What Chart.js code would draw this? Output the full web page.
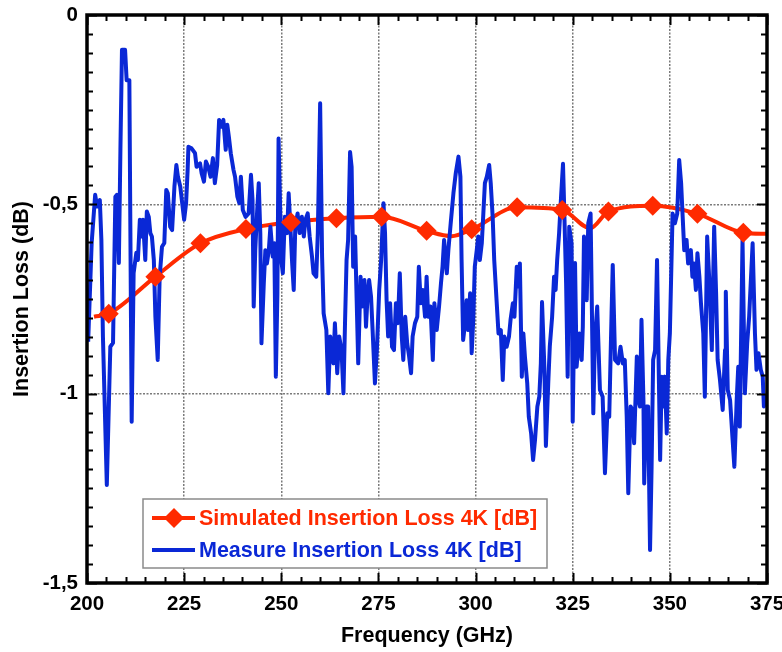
<!DOCTYPE html>
<html>
<head>
<meta charset="utf-8">
<script src="https://cdn.jsdelivr.net/npm/chart.js@4/dist/chart.umd.min.js"></script>
<style>
html,body{margin:0;padding:0;background:#fff;}
#wrap{position:relative;width:782px;height:652px;}
</style>
</head>
<body>
<div id="wrap"><canvas id="c" width="782" height="652"></canvas></div>
<script>
// ---------- DATA ----------
const seriesLabels = ['Simulated Insertion Loss 4K [dB]', 'Measure Insertion Loss 4K [dB]'];
const axisTitles = { x: 'Frequency (GHz)', y: 'Insertion Loss (dB)' };
const xTickValues = [200, 225, 250, 275, 300, 325, 350, 375];
const yTickValues = [0, -0.5, -1, -1.5];

// Simulated: diamond markers
const simMarkerFreq = [205.6, 217.6, 229.2, 240.9, 252.5, 264.2, 275.8, 287.4, 299.0, 310.7, 322.3, 334.2, 345.6, 357.1, 368.9];
const simMarkerLoss = [-0.789, -0.691, -0.603, -0.565, -0.547, -0.537, -0.533, -0.570, -0.566, -0.508, -0.515, -0.519, -0.504, -0.525, -0.575];
// Simulated: full smooth curve (includes marker points)
const simCurveFreq = [201.8, 205.6, 217.6, 229.2, 240.9, 252.5, 264.2, 275.8, 287.4, 293.8, 299.0, 310.7, 322.3, 329.5, 334.2, 345.6, 357.1, 368.9, 375.0];
const simCurveLoss = [-0.797, -0.789, -0.691, -0.603, -0.565, -0.547, -0.537, -0.533, -0.570, -0.584, -0.566, -0.508, -0.515, -0.563, -0.519, -0.504, -0.525, -0.575, -0.578];

// Measured
const measFreq = [
200.3,201.2,202.1,202.6,203.3,203.7,204.1,205.1,206.0,206.7,
207.3,207.7,208.2,208.6,209.0,209.8,210.2,210.9,211.5,212.0,
212.7,213.1,213.6,214.0,214.4,215.0,215.4,215.9,216.3,216.7,
217.2,217.6,218.2,218.7,219.3,219.9,220.4,220.8,221.4,221.9,
222.5,223.0,223.4,224.0,224.6,225.0,225.5,225.9,226.1,226.9,
227.8,228.2,229.1,229.5,230.1,230.6,231.2,231.8,232.4,232.9,
233.5,234.0,234.7,235.1,235.7,236.1,236.5,237.0,237.7,238.1,
238.7,239.2,239.6,240.1,240.8,241.6,242.2,242.6,242.9,243.3,
243.8,244.2,244.6,244.9,245.5,245.9,246.3,246.8,247.2,247.8,
248.2,248.6,249.0,249.3,250.0,250.4,250.9,251.5,251.9,252.3,
252.8,253.2,253.6,254.2,254.7,255.3,255.8,256.2,256.8,257.3,
257.9,258.3,259.0,259.4,260.0,260.5,260.9,261.6,262.1,262.6,
262.9,263.4,263.8,264.4,264.9,265.5,266.0,266.4,266.8,267.2,
267.7,268.1,268.5,269.0,269.4,269.8,270.4,270.8,271.4,271.8,
272.2,272.6,273.1,273.5,274.1,274.6,275.2,275.7,276.3,276.7,
277.1,277.5,278.0,278.5,279.0,279.5,280.0,280.5,281.0,281.4,
281.9,282.4,282.9,283.4,283.8,284.4,285.0,285.4,285.9,286.4,
287.0,287.4,287.8,288.4,289.0,289.4,290.0,290.6,291.1,291.5,
291.9,292.6,293.0,293.6,294.3,294.9,295.6,296.1,296.4,296.8,
297.3,297.7,298.1,298.6,299.0,299.4,299.8,300.3,300.7,301.1,
301.6,302.0,302.4,302.9,303.5,303.9,304.4,304.8,305.4,305.9,
306.5,307.0,307.4,308.0,308.6,309.0,309.6,310.0,310.6,311.0,
311.4,311.9,312.3,312.7,313.3,313.7,314.3,314.8,315.3,315.9,
316.4,316.8,317.1,317.7,318.1,318.7,319.1,319.7,320.2,320.6,
321.0,321.5,322.0,322.5,322.8,323.3,323.7,324.1,324.7,325.0,
325.6,326.0,326.7,327.3,327.6,327.9,328.6,329.0,329.6,330.3,
330.7,331.3,332.0,332.7,333.3,333.9,334.4,335.0,335.3,335.9,
336.7,337.3,337.9,338.4,338.9,339.3,339.9,340.4,340.8,341.5,
341.9,342.3,342.7,343.2,343.4,343.9,344.4,344.9,345.3,345.7,
346.2,346.7,347.5,347.9,348.3,348.7,349.2,349.6,350.0,350.7,
351.3,351.9,352.4,352.9,353.3,353.7,354.3,354.7,355.4,355.8,
356.2,356.7,357.1,357.6,358.0,358.6,359.0,359.6,360.1,360.8,
361.4,361.9,362.3,362.9,363.6,364.2,364.4,364.9,365.5,366.1,
366.6,367.2,367.6,368.0,368.7,369.3,369.9,370.4,371.3,371.9,
372.3,372.8,373.4,373.9,374.2,374.7
];
const measLoss = [
-0.863,-0.602,-0.475,-0.506,-0.489,-0.594,-0.849,-1.241,-0.876,-0.866,
-0.480,-0.475,-0.655,-0.356,-0.092,-0.092,-0.172,-0.172,-1.074,-0.681,
-0.628,-0.647,-0.541,-0.585,-0.541,-0.647,-0.519,-0.533,-0.576,-0.585,
-0.647,-0.797,-0.911,-0.691,-0.612,-0.602,-0.462,-0.471,-0.559,-0.568,
-0.453,-0.396,-0.427,-0.453,-0.506,-0.541,-0.497,-0.409,-0.348,-0.352,
-0.365,-0.401,-0.392,-0.418,-0.440,-0.387,-0.401,-0.427,-0.378,-0.444,
-0.396,-0.277,-0.295,-0.277,-0.356,-0.290,-0.321,-0.365,-0.409,-0.427,
-0.480,-0.497,-0.427,-0.515,-0.533,-0.524,-0.422,-0.489,-0.770,-0.621,
-0.515,-0.444,-0.576,-0.867,-0.708,-0.621,-0.656,-0.621,-0.559,-0.638,
-0.603,-0.955,-0.735,-0.326,-0.647,-0.682,-0.533,-0.576,-0.471,-0.550,
-0.656,-0.726,-0.559,-0.524,-0.576,-0.533,-0.585,-0.541,-0.524,-0.585,
-0.638,-0.682,-0.691,-0.576,-0.233,-0.638,-0.788,-0.832,-0.999,-0.849,
-0.871,-0.920,-0.814,-0.946,-0.849,-0.885,-0.999,-0.814,-0.647,-0.594,
-0.362,-0.401,-0.665,-0.585,-0.753,-0.920,-0.691,-0.770,-0.700,-0.823,
-0.744,-0.700,-0.744,-0.832,-0.973,-0.885,-0.726,-0.647,-0.497,-0.576,
-0.753,-0.849,-0.761,-0.876,-0.885,-0.761,-0.814,-0.682,-0.849,-0.911,
-0.797,-0.867,-0.902,-0.946,-0.849,-0.814,-0.797,-0.665,-0.761,-0.726,
-0.797,-0.691,-0.797,-0.770,-0.911,-0.761,-0.832,-0.770,-0.708,-0.665,
-0.594,-0.682,-0.621,-0.550,-0.471,-0.418,-0.374,-0.427,-0.647,-0.858,
-0.814,-0.753,-0.832,-0.735,-0.893,-0.805,-0.665,-0.621,-0.585,-0.647,
-0.603,-0.524,-0.444,-0.427,-0.396,-0.444,-0.533,-0.647,-0.753,-0.841,
-0.832,-0.964,-0.849,-0.876,-0.849,-0.805,-0.761,-0.797,-0.665,-0.717,
-0.656,-0.955,-0.841,-0.902,-0.973,-1.061,-1.105,-1.175,-1.122,-1.034,
-1.008,-0.920,-0.758,-0.929,-1.138,-0.973,-0.876,-0.797,-0.691,-0.726,
-0.647,-0.576,-0.480,-0.393,-0.506,-0.708,-0.955,-0.559,-0.603,-1.074,
-0.655,-0.929,-0.841,-0.911,-0.823,-0.585,-0.753,-0.550,-0.524,-1.052,
-0.858,-0.770,-0.990,-1.008,-1.210,-1.052,-1.061,-0.788,-0.660,-0.911,
-0.920,-0.876,-0.920,-0.911,-1.061,-1.263,-1.034,-1.043,-1.131,-0.902,
-1.017,-1.034,-0.805,-1.017,-1.237,-1.034,-1.034,-1.413,-1.193,-0.911,
-0.885,-0.647,-1.175,-0.955,-1.034,-0.955,-1.105,-0.911,-0.841,-0.524,
-0.550,-0.524,-0.383,-0.444,-0.533,-0.621,-0.594,-0.656,-0.621,-0.691,
-0.656,-0.726,-0.629,-0.691,-0.761,-0.841,-1.008,-0.585,-0.691,-0.885,
-0.559,-0.735,-0.911,-0.964,-1.043,-0.885,-0.731,-0.990,-1.017,-1.114,
-1.193,-1.017,-0.929,-1.087,-0.594,-0.999,-0.867,-0.797,-0.603,-0.841,
-0.937,-0.893,-0.937,-0.955,-1.034,-1.003
];

// ---------- STYLE ----------
const RED = '#ff2a00';
const BLUE = '#0a28d6';
const FONT = '"Liberation Sans", Arial, Helvetica, sans-serif';

const toXY = (xs, ys) => xs.map((x, i) => ({ x: x, y: ys[i] }));

const xMin = xTickValues[0], xMax = xTickValues[xTickValues.length - 1];
const yMin = yTickValues[yTickValues.length - 1], yMax = yTickValues[0];
const xMajor = 25, xMinor = 5, yMajor = 0.5, yMinor = 0.05;

// frame + inward ticks
const framePlugin = {
  id: 'frameTicks',
  afterDatasetsDraw(chart) {
    const { ctx, chartArea: a, scales: { x, y } } = chart;
    ctx.save();
    ctx.strokeStyle = '#000';
    ctx.lineWidth = 2;
    ctx.beginPath();
    const nx = Math.round((xMax - xMin) / xMinor);
    for (let i = 0; i <= nx; i++) {
      const v = xMin + i * xMinor;
      const px = Math.round(x.getPixelForValue(v)) + 0.5;
      const len = (i % Math.round(xMajor / xMinor) === 0) ? 10 : 6;
      ctx.moveTo(px, a.top); ctx.lineTo(px, a.top + len);
      ctx.moveTo(px, a.bottom); ctx.lineTo(px, a.bottom - len);
    }
    const ny = Math.round((yMax - yMin) / yMinor);
    for (let i = 0; i <= ny; i++) {
      const v = yMin + i * yMinor;
      const py = Math.round(y.getPixelForValue(v)) + 0.5;
      const len = (i % Math.round(yMajor / yMinor) === 0) ? 10 : 6;
      ctx.moveTo(a.left, py); ctx.lineTo(a.left + len, py);
      ctx.moveTo(a.right, py); ctx.lineTo(a.right - len, py);
    }
    ctx.stroke();
    ctx.lineWidth = 3.5;
    ctx.strokeRect(a.left, a.top, a.right - a.left, a.bottom - a.top);
    ctx.restore();
  }
};

// legend box drawn inside the plot
const legendPlugin = {
  id: 'boxLegend',
  afterDraw(chart) {
    const { ctx, chartArea: a } = chart;
    const bx = a.left + 56, by = a.bottom - 84, bw = 404, bh = 69;
    ctx.save();
    ctx.fillStyle = '#fff';
    ctx.fillRect(bx, by, bw, bh);
    ctx.strokeStyle = '#8a8a8a';
    ctx.lineWidth = 1.5;
    ctx.strokeRect(bx, by, bw, bh);
    const rows = [
      { label: seriesLabels[0], color: RED, marker: true, y: by + 19 },
      { label: seriesLabels[1], color: BLUE, marker: false, y: by + 51 }
    ];
    ctx.font = 'bold 21.5px ' + FONT;
    ctx.textBaseline = 'middle';
    ctx.textAlign = 'left';
    rows.forEach(r => {
      ctx.strokeStyle = r.color;
      ctx.lineWidth = 4;
      ctx.beginPath();
      ctx.moveTo(bx + 9, r.y); ctx.lineTo(bx + 52, r.y);
      ctx.stroke();
      if (r.marker) {
        const cx = bx + 31, s = 10;
        ctx.fillStyle = r.color;
        ctx.beginPath();
        ctx.moveTo(cx, r.y - s); ctx.lineTo(cx + s, r.y); ctx.lineTo(cx, r.y + s); ctx.lineTo(cx - s, r.y);
        ctx.closePath(); ctx.fill();
      }
      ctx.fillStyle = r.color;
      ctx.fillText(r.label, bx + 56, r.y + 1);
    });
    ctx.restore();
  }
};

new Chart(document.getElementById('c'), {
  type: 'line',
  data: {
    datasets: [
      {
        label: seriesLabels[0] + ' (curve)',
        data: toXY(simCurveFreq, simCurveLoss),
        borderColor: RED,
        borderWidth: 4,
        pointRadius: 0,
        cubicInterpolationMode: 'monotone',
        fill: false,
        order: 3
      },
      {
        label: seriesLabels[1],
        data: toXY(measFreq, measLoss),
        borderColor: BLUE,
        borderWidth: 4,
        borderJoinStyle: 'round',
        pointRadius: 0,
        tension: 0,
        fill: false,
        order: 2
      },
      {
        label: seriesLabels[0],
        data: toXY(simMarkerFreq, simMarkerLoss),
        showLine: false,
        pointStyle: 'rectRot',
        pointRadius: 10,
        pointBackgroundColor: RED,
        pointBorderColor: RED,
        pointBorderWidth: 0,
        order: 1
      }
    ]
  },
  options: {
    responsive: false,
    animation: false,
    events: [],
    layout: { autoPadding: false, padding: { top: 15, right: 15, left: 0, bottom: 0 } },
    plugins: {
      legend: { display: false },
      tooltip: { enabled: false },
      title: { display: false }
    },
    scales: {
      x: {
        type: 'linear',
        min: xMin, max: xMax,
        afterFit: s => { s.height = 69; s.paddingLeft = 0; s.paddingRight = 0; },
        afterBuildTicks: s => { s.ticks = xTickValues.map(v => ({ value: v })); },
        ticks: { stepSize: xMajor, padding: 9, color: '#000', font: { family: FONT, size: 20.5, weight: 'bold' } },
        grid: { color: '#7a7a7a', lineWidth: 1.5, drawTicks: false },
        border: { display: false, dash: [2, 1.5] },
        title: { display: true, text: axisTitles.x, color: '#000', padding: { top: 0, bottom: 3 }, font: { family: FONT, size: 21.5, weight: 'bold' } }
      },
      y: {
        type: 'linear',
        min: yMin, max: yMax,
        afterFit: s => { s.width = 87; s.paddingTop = 0; s.paddingBottom = 0; },
        afterBuildTicks: s => { s.ticks = yTickValues.slice().reverse().map(v => ({ value: v })); },
        ticks: {
          stepSize: yMajor, padding: 9, color: '#000',
          font: { family: FONT, size: 20.5, weight: 'bold' },
          callback: v => String(v).replace('.', ',')
        },
        grid: { color: '#7a7a7a', lineWidth: 1.5, drawTicks: false },
        border: { display: false, dash: [2, 1.5] },
        title: { display: true, text: axisTitles.y, color: '#000', padding: { top: 9, bottom: 0 }, font: { family: FONT, size: 21.5, weight: 'bold' } }
      }
    }
  },
  plugins: [framePlugin, legendPlugin]
});
</script>
</body>
</html>
